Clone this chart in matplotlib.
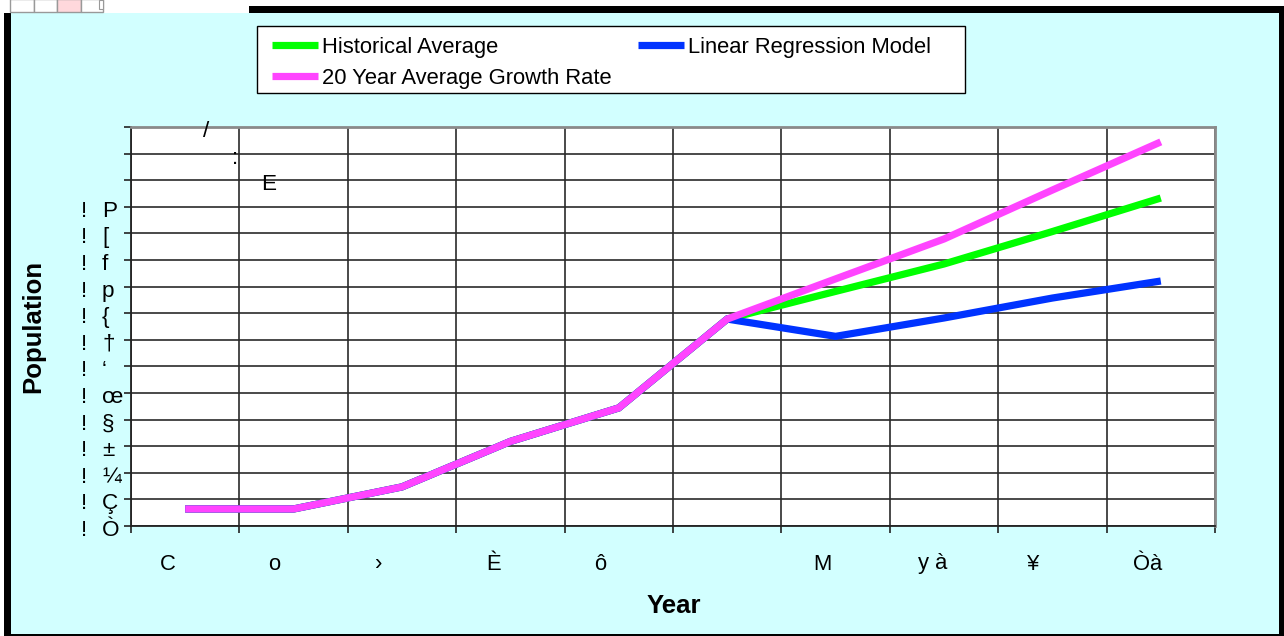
import matplotlib
matplotlib.use("Agg")
import matplotlib.pyplot as plt
import matplotlib.transforms as mtransforms
from matplotlib.patches import Rectangle

# ---------------- data ----------------
categories = ["C", "o", "\u203a", "\u00c8", "\u00f4", "", "M", "y \u00e0", "\u00a5", "\u00d2\u00e0"]
historical_average = [0.64, 0.64, 1.47, 3.18, 4.44, 7.78, 8.82, 9.85, 11.07, 12.33]
linear_regression = [0.64, 0.64, 1.47, 3.18, 4.44, 7.78, 7.13, 7.82, 8.57, 9.21]
growth_rate_20yr = [0.64, 0.64, 1.47, 3.18, 4.44, 7.78, 9.29, 10.79, 12.63, 14.44]
y_tick_values = list(range(0, 16))
y_tick_prefix = ["!"] * 13 + ["", "", ""]
y_tick_labels = ["\u00d2", "\u00c7", "\u00bc", "\u00b1", "\u00a7", "\u0153", "\u2018", "\u2020",
                 "{", "p", "f", "[", "P", "E", ":", "/"]
series_names = ["Historical Average", "Linear Regression Model", "20 Year Average Growth Rate"]

# ---------------- style ----------------
W, H = 1284, 636
FONT = "Liberation Sans"
plt.rcParams["font.family"] = [FONT, "DejaVu Sans"]
fs = 15.8
cyan = "#D2FFFF"
green = "#00FF00"
blue = "#0033FF"
pink = "#FF44FF"

fig = plt.figure(figsize=(W / 100, H / 100), dpi=100)
fig.patch.set_facecolor("white")

# background / frame axes in pixel coordinates
bg = fig.add_axes([0, 0, 1, 1], zorder=0)
bg.set_xlim(0, W)
bg.set_ylim(H, 0)
bg.axis("off")
bg.add_patch(Rectangle((11, 13), 1268, 621, facecolor=cyan, edgecolor="none"))
bg.add_patch(Rectangle((4, 6), 7, 630, facecolor="black", edgecolor="none"))
bg.add_patch(Rectangle((249, 6), 1035, 7, facecolor="black", edgecolor="none"))
bg.add_patch(Rectangle((1279, 6), 5, 630, facecolor="black", edgecolor="none"))
bg.add_patch(Rectangle((4, 634), 1280, 2, facecolor="black", edgecolor="none"))
# small spreadsheet-cell artifact top-left
bg.add_patch(Rectangle((0, 0), 249, 13, facecolor="white", edgecolor="none"))
for x0, x1, fc in [(10, 34, "white"), (34, 57, "white"), (57, 81, "#FFD8DC"), (81, 103, "white")]:
    bg.add_patch(Rectangle((x0, -1), x1 - x0, 13, facecolor=fc, edgecolor="#999999", lw=1))
bg.add_patch(Rectangle((99, 0), 4, 9, facecolor="white", edgecolor="#999999", lw=0.8))
# legend box
bg.add_patch(Rectangle((257, 26), 708, 67, facecolor="white", edgecolor="black", lw=1.0))

# main plot axes
L, R, T, B = 131, 1215, 127, 526
ax = fig.add_axes([L / W, (H - B) / H, (R - L) / W, (B - T) / H], zorder=2)
ax.set_facecolor("white")
ax.set_xlim(0, len(categories))
ax.set_ylim(0, 15)

x = [i + 0.5 for i in range(len(categories))]
ax.plot(x, historical_average, color=green, lw=5.2, solid_capstyle="butt", solid_joinstyle="miter", label=series_names[0], zorder=3)
ax.plot(x, linear_regression, color=blue, lw=5.2, solid_capstyle="butt", solid_joinstyle="miter", label=series_names[1], zorder=3)
ax.plot(x, growth_rate_20yr, color=pink, lw=5.2, solid_capstyle="butt", solid_joinstyle="miter", label=series_names[2], zorder=4)

# grid
ax.set_xticks(range(0, len(categories) + 1))
ax.set_yticks(y_tick_values)
ax.set_xticklabels([])
ax.set_yticklabels([])
ax.grid(True, color="#2a2a2a", lw=1.2)
ax.set_axisbelow(True)
ax.tick_params(axis="both", direction="out", length=5, width=1.2, color="#222222")
for s in ["top", "right"]:
    ax.spines[s].set_color("#8a8a8a")
    ax.spines[s].set_linewidth(2)
for s in ["left", "bottom"]:
    ax.spines[s].set_color("#222222")
    ax.spines[s].set_linewidth(1.3)

# x category labels (as rendered, slightly left of the category centre)
label_dx_px = [-17, -19, -23, -17, -19, 0, -13, -11, -19, -13]
trans_x = mtransforms.blended_transform_factory(ax.transData, ax.transAxes)
for xi, lab, dx in zip(x, categories, label_dx_px):
    ax.text(xi + dx / 108.4, -(564 - B) / (B - T), lab, transform=trans_x,
            ha="center", va="center", fontsize=fs, color="black")

# y tick labels (baseline about 10 px below each gridline)
trans_y = mtransforms.blended_transform_factory(bg.transData, ax.transData)
off = mtransforms.ScaledTranslation(0, -10 / 100, fig.dpi_scale_trans)
label_x_px = [102] * 13 + [261, 232, 203]
for v, pre, lab, lx in zip(y_tick_values, y_tick_prefix, y_tick_labels, label_x_px):
    if pre:
        ax.text(84, v, pre, transform=trans_y + off, ha="center", va="baseline", fontsize=16.2, clip_on=False)
    ax.text(lx, v, lab, transform=trans_y + off, ha="left", va="baseline", fontsize=16.2, clip_on=False)

# axis titles
ax.set_ylabel("Population", fontsize=18.5, fontweight="bold", va="center")
ax.yaxis.set_label_coords((33 - L) / (R - L), 0.5)
ax.set_xlabel("Year", fontsize=18.5, fontweight="bold", va="center")
ax.xaxis.set_label_coords((674 - L) / (R - L), -(606 - B) / (B - T))

# legend (frame drawn as rectangle above)
handles, labels = ax.get_legend_handles_labels()
order = [0, 2, 1]
leg = ax.legend([handles[i] for i in order], [labels[i] for i in order], ncol=2,
                loc="upper left", bbox_to_anchor=((272 - L) / (R - L), 1 + (T - 37) / (B - T)),
                fontsize=fs, frameon=False, handlelength=2.1, handletextpad=0.18,
                columnspacing=1.19, labelspacing=0.45, borderpad=0, borderaxespad=0)
for lh in leg.get_lines():
    lh.set_linewidth(5.2)

fig.savefig("out.png", dpi=100, facecolor=fig.get_facecolor())
